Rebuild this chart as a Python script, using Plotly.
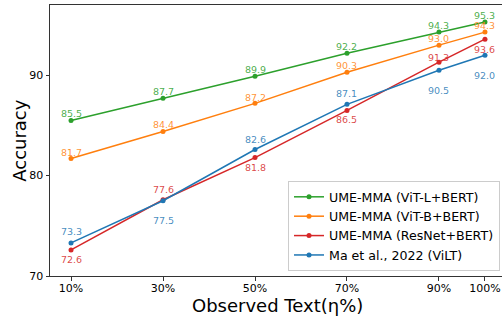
import plotly.graph_objects as go

# ---- data ----
x_vals = [10, 30, 50, 70, 90, 100]
x_tick_text = ["10%", "30%", "50%", "70%", "90%", "100%"]
y_ticks = [70, 80, 90]

series_names = [
    "UME-MMA (ViT-L+BERT)",
    "UME-MMA (ViT-B+BERT)",
    "UME-MMA (ResNet+BERT)",
    "Ma et al., 2022 (ViLT)",
]
vit_l = [85.5, 87.7, 89.9, 92.2, 94.3, 95.3]
vit_b = [81.7, 84.4, 87.2, 90.3, 93.0, 94.3]
resnet = [72.6, 77.6, 81.8, 86.5, 91.3, 93.6]
vilt = [73.3, 77.5, 82.6, 87.1, 90.5, 92.0]

# ---- styles ----
colors = ["#2ca02c", "#ff7f0e", "#d62728", "#1f77b4"]
text_colors = ["rgba(44,160,44,0.85)", "rgba(255,127,14,0.85)",
               "rgba(214,39,40,0.85)", "rgba(31,119,180,0.85)"]
# vertical label offsets in pixels (positive = up)
label_shift = [
    [7, 7, 7, 7, 7, 7],
    [6, 7, 6, 7, 7, 7],
    [-10, 10, -10, -9, 5, -10],
    [11, -20, 10, 11, -20, -20],
]

FONT = "DejaVu Sans"
all_series = [vit_l, vit_b, resnet, vilt]

fig = go.Figure()
for name, ys, c in zip(series_names, all_series, colors):
    fig.add_trace(go.Scatter(
        x=x_vals, y=ys, name=name, mode="lines+markers",
        line=dict(color=c, width=1.5),
        marker=dict(color=c, size=5),
    ))

annotations = []
for ys, tc, shifts in zip(all_series, text_colors, label_shift):
    for xv, yv, s in zip(x_vals, ys, shifts):
        annotations.append(dict(
            x=xv, y=yv, xref="x", yref="y", text=f"{yv:.1f}",
            showarrow=False, yshift=s, xanchor="center", yanchor="middle",
            font=dict(family=FONT, size=9.5, color=tc),
        ))

annotations.append(dict(
    x=0.504, y=-0.109, xref="paper", yref="paper", text="Observed Text(η%)",
    showarrow=False, xanchor="center", yanchor="middle",
    font=dict(family=FONT, size=18, color="#000"),
))
annotations.append(dict(
    x=-0.068, y=0.5, xref="paper", yref="paper", text="Accuracy",
    showarrow=False, xanchor="center", yanchor="middle", textangle=-90,
    font=dict(family=FONT, size=18, color="#000"),
))

fig.update_layout(
    width=502, height=318,
    margin=dict(l=50, r=0, t=5, b=42),
    paper_bgcolor="white", plot_bgcolor="white",
    font=dict(family=FONT, size=11, color="#000"),
    showlegend=True,
    legend=dict(
        x=0.9956, y=0.018, xanchor="right", yanchor="bottom",
        font=dict(family=FONT, size=12.6, color="#000"),
        bgcolor="rgba(255,255,255,0.8)", bordercolor="#cccccc", borderwidth=1,
        itemwidth=30, tracegroupgap=0,
    ),
    annotations=annotations,
)
fig.update_xaxes(
    range=[5.43, 103.7], tickmode="array", tickvals=x_vals, ticktext=x_tick_text,
    showgrid=False, zeroline=False, showline=True, linecolor="#333", linewidth=1,
    mirror=True, ticks="outside", ticklen=3.5, tickwidth=1, tickcolor="#333",
    tickfont=dict(family=FONT, size=11, color="#000"), automargin=False,
    ticklabelstandoff=-2,
)
fig.update_yaxes(
    range=[70, 97], tickmode="array", tickvals=y_ticks,
    showgrid=False, zeroline=False, showline=True, linecolor="#333", linewidth=1,
    ticks="outside", ticklen=3.5, tickwidth=1, tickcolor="#333",
    tickfont=dict(family=FONT, size=11, color="#000"), automargin=False,
)

fig.write_html(
    "out.html",
    config={"displayModeBar": False},
    post_script="document.body.style.margin='0';document.body.style.padding='0';",
)
